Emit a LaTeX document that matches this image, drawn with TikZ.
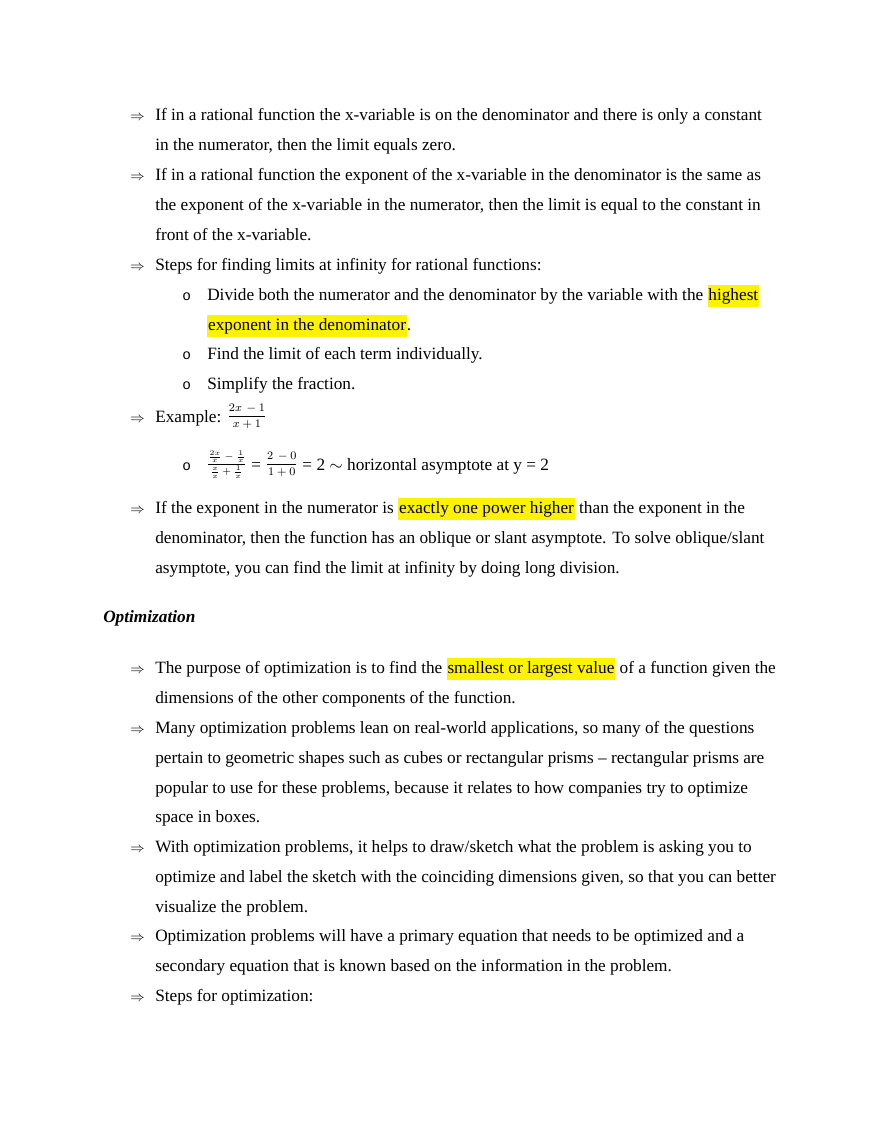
\documentclass[tikz,border=0pt]{standalone}
\usepackage{fontspec}
\setmainfont{Liberation Serif}
\newfontfamily\bulletfont{Liberation Mono}
\usepackage{amsmath}
\newcommand{\hlt}[1]{{\setlength\fboxsep{0.6pt}\colorbox{yellow}{\strut #1}}}
\begin{document}
\begin{tikzpicture}[x=0.6954pt, y=-0.6954pt,
                    textline/.style={anchor=base west, inner sep=0pt, font=\fontsize{12}{14}\selectfont},
                    arrownode/.style={anchor=base west, inner sep=0pt, font=\normalsize},
                    bulletnode/.style={anchor=base west, inner sep=0pt, font=\bulletfont\normalsize}]
\useasboundingbox (0,0) rectangle (880,1139);
% first group
\node[arrownode] (a1) at (130,120) {$\Rightarrow$};
\node[textline] (t1) at (155,120) {If in a rational function the x-variable is on the denominator and there is only a constant};
\node[textline] (t2) at (155,150) {in the numerator, then the limit equals zero.};
\node[arrownode] (a2) at (130,180) {$\Rightarrow$};
\node[textline] (t3) at (155,180) {If in a rational function the exponent of the x-variable in the denominator is the same as};
\node[textline] (t4) at (155,210) {the exponent of the x-variable in the numerator, then the limit is equal to the constant in};
\node[textline] (t5) at (155,240) {front of the x-variable.};
\node[arrownode] (a3) at (130,270) {$\Rightarrow$};
\node[textline] (t6) at (155,270) {Steps for finding limits at infinity for rational functions:};
\node[bulletnode] (b1) at (182,300) {o};
\node[textline] (t7) at (207,300) {Divide both the numerator and the denominator by the variable with the \hlt{highest}};
\node[textline] (t8) at (207,330) {\hlt{exponent in the denominator}.};
\node[bulletnode] (b2) at (182,359) {o};
\node[textline] (t9) at (207,359) {Find the limit of each term individually.};
\node[bulletnode] (b3) at (182,389) {o};
\node[textline] (t10) at (207,389) {Simplify the fraction.};
% example
\node[arrownode] (a4) at (130,422) {$\Rightarrow$};
\node[textline] (t11) at (155,422) {Example: \raisebox{2pt}{\footnotesize$\dfrac{2x\,-1}{x+1}$}};
\node[bulletnode] (b4) at (182,470) {o};
\node[textline] (t12) at (206,470) {\raisebox{2pt}{\scriptsize$\dfrac{\frac{2x}{x}-\frac{1}{x}}{\frac{x}{x}+\frac{1}{x}}$} = \raisebox{2pt}{\footnotesize$\dfrac{2\,-0}{1+0}$} = 2 $\sim$ horizontal asymptote at y = 2};
\node[arrownode] (a5) at (130,513) {$\Rightarrow$};
\node[textline] (t13) at (155,513) {If the exponent in the numerator is \hlt{exactly one power higher} than the exponent in the};
\node[textline] (t14) at (155,543) {denominator, then the function has an oblique or slant asymptote. To solve oblique/slant};
\node[textline] (t15) at (155,573) {asymptote, you can find the limit at infinity by doing long division.};
% optimization
\node[textline, font=\fontsize{12}{14}\selectfont\bfseries\itshape] (h1) at (103,622) {Optimization};
\node[arrownode] (a6) at (130,673) {$\Rightarrow$};
\node[textline] (t16) at (155,673) {The purpose of optimization is to find the \hlt{smallest or largest value} of a function given the};
\node[textline] (t17) at (155,703) {dimensions of the other components of the function.};
\node[arrownode] (a7) at (130,733) {$\Rightarrow$};
\node[textline] (t18) at (155,733) {Many optimization problems lean on real-world applications, so many of the questions};
\node[textline] (t19) at (155,763) {pertain to geometric shapes such as cubes or rectangular prisms -- rectangular prisms are};
\node[textline] (t20) at (155,793) {popular to use for these problems, because it relates to how companies try to optimize};
\node[textline] (t21) at (155,822) {space in boxes.};
\node[arrownode] (a8) at (130,852) {$\Rightarrow$};
\node[textline] (t22) at (155,852) {With optimization problems, it helps to draw/sketch what the problem is asking you to};
\node[textline] (t23) at (155,882) {optimize and label the sketch with the coinciding dimensions given, so that you can better};
\node[textline] (t24) at (155,912) {visualize the problem.};
\node[arrownode] (a9) at (130,941) {$\Rightarrow$};
\node[textline] (t25) at (155,941) {Optimization problems will have a primary equation that needs to be optimized and a};
\node[textline] (t26) at (155,971) {secondary equation that is known based on the information in the problem.};
\node[arrownode] (a10) at (130,1001) {$\Rightarrow$};
\node[textline] (t27) at (155,1001) {Steps for optimization:};
\end{tikzpicture}
\end{document}
